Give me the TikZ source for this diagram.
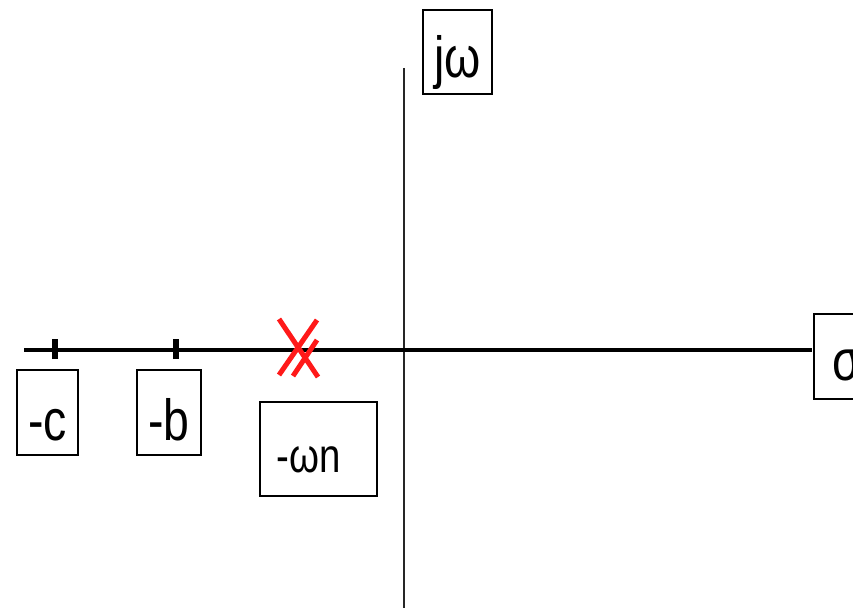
\documentclass[tikz,border=0pt]{standalone}
\usepackage{graphicx}
\usepackage{fontspec}
\setmainfont{Liberation Sans}
\begin{document}
\begin{tikzpicture}[x=1pt,y=-1pt,
  labelbox/.style={draw=black, line width=2pt, inner sep=0pt, text depth=0pt,
    font=\fontsize{58}{60}\selectfont},
  realaxis/.style={line width=4.5pt, black},
  imagaxis/.style={line width=2pt, black!85},
  tickmark/.style={line width=6pt, black},
  polemark/.style={line width=5pt, red!90!white}]
  \useasboundingbox (0,0) rectangle (853,607);
  \clip (0,0) rectangle (853,607);

  % axis end points
  \coordinate (reLeft) at (24,350);
  \coordinate (reRight) at (812,350);
  \coordinate (imTop) at (404,68);
  \coordinate (imBottom) at (404,612);

  % axes
  \draw[imagaxis] (imTop) -- (imBottom);
  \draw[realaxis] (reLeft) -- (reRight);

  % tick marks on the real axis
  \coordinate (tickC) at (55,350);
  \coordinate (tickB) at (176,350);
  \draw[tickmark] ([yshift=-9pt]tickC) -- ([yshift=11pt]tickC);
  \draw[tickmark] ([yshift=-9pt]tickB) -- ([yshift=11pt]tickB);

  % axis labels
  \node[labelbox, minimum width=69pt, minimum height=84pt, text height=52pt]
    (jw) at (457.5,52) {\scalebox{0.8}[1]{jω}};
  \node[labelbox, minimum width=66pt, minimum height=85pt, text height=47pt]
    (sigma) at (847,356.5) {\scalebox{0.8}[1]{σ}};

  % point labels
  \node[labelbox, minimum width=61pt, minimum height=85pt, text height=55pt]
    (lc) at (47.5,412.5) {\scalebox{0.8}[1]{-c}};
  \node[labelbox, minimum width=64pt, minimum height=85pt, text height=55pt]
    (lb) at (169,412.5) {\scalebox{0.8}[1]{-b}};
  \node[labelbox, minimum width=117pt, minimum height=94pt, text height=46pt,
    font=\fontsize{48}{50}\selectfont]
    (lwn) at (318.5,449) {\scalebox{0.8}[1]{-ωn}\hspace*{20pt}};

  % pole at -omega_n
  \coordinate (pole) at (298,348);
  \draw[polemark] ([shift={(-19,-29)}]pole) -- ([shift={(20,29)}]pole);
  \draw[polemark] ([shift={(19,-28)}]pole) -- ([shift={(-19,27)}]pole);
  \draw[polemark] ([shift={(19,-8)}]pole) -- ([shift={(-5,28)}]pole);
\end{tikzpicture}
\end{document}
